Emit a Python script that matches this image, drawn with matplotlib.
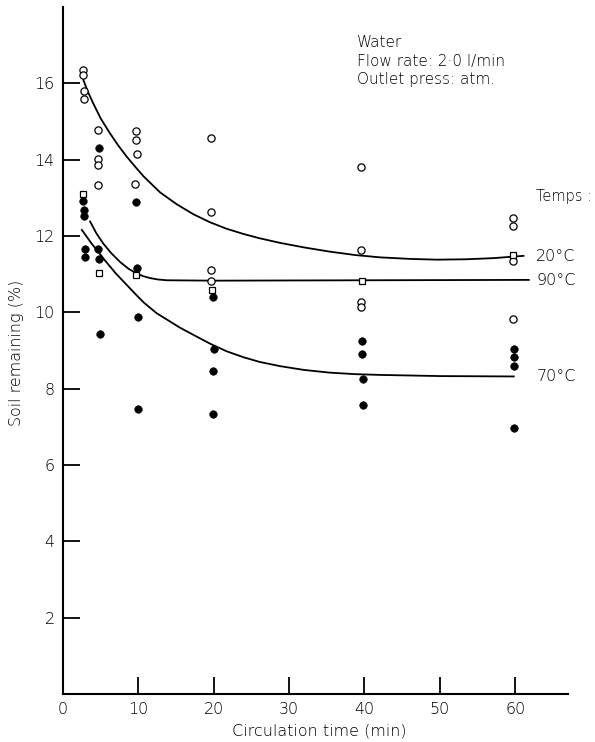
import matplotlib
matplotlib.use('Agg')
import matplotlib.pyplot as plt

plt.rcParams['font.family'] = ['DejaVu Sans']
plt.rcParams['font.weight'] = 'light'

# scatter points: soil remaining (%) against circulation time (min)
t_20 = [2.7, 2.7, 2.8, 2.8, 4.7, 4.6, 4.6, 4.6, 9.65, 9.65, 9.8, 9.6,
        19.7, 19.7, 19.7, 19.7, 39.6, 39.6, 39.6, 39.6, 59.7, 59.7, 59.7, 59.7]
soil_20 = [16.36, 16.22, 15.79, 15.58, 14.78, 14.02, 13.87, 13.33, 14.76, 14.52, 14.16, 13.36,
           14.56, 12.62, 11.10, 10.83, 13.82, 11.64, 10.28, 10.14, 12.47, 12.25, 11.35, 9.83]

t_70 = [2.7, 2.8, 2.8, 2.9, 2.95, 4.8, 4.7, 4.8, 4.95, 9.65, 9.8, 9.9, 10.0,
        19.9, 20.0, 19.9, 19.9, 39.7, 39.7, 39.8, 39.8, 59.8, 59.8, 59.8, 59.9]
soil_70 = [12.92, 12.69, 12.53, 11.66, 11.46, 14.30, 11.67, 11.39, 9.43, 12.90, 11.17, 9.89, 7.47,
           10.41, 9.04, 8.47, 7.33, 9.24, 8.90, 8.26, 7.56, 9.03, 8.84, 8.60, 6.96]

t_90 = [2.7, 4.8, 9.65, 19.8, 39.7, 59.7]
soil_90 = [13.10, 11.02, 10.97, 10.59, 10.83, 11.50]

# hand-fitted trend curves
curve_20_t = [2.7, 3.3, 4.0, 5.0, 6.2, 7.3, 8.45, 9.6, 10.7, 12.9, 15.1, 17.3, 19.5, 21.7,
              24.0, 26.1, 28.8, 32.0, 35.4, 38.8, 42.1, 46.0, 49.6, 53.5, 57.1, 61.1]
curve_20_y = [16.09, 15.78, 15.48, 15.08, 14.70, 14.38, 14.08, 13.81, 13.56, 13.14, 12.83, 12.57,
              12.36, 12.19, 12.05, 11.94, 11.82, 11.70, 11.59, 11.50, 11.44, 11.40, 11.38,
              11.39, 11.42, 11.48]

curve_90_t = [3.6, 4.4, 5.35, 6.4, 7.57, 8.7, 9.78, 10.6, 11.5, 12.6, 13.8, 20.0, 40.0, 61.8]
curve_90_y = [12.38, 12.08, 11.80, 11.55, 11.32, 11.14, 11.02, 10.95, 10.90, 10.86, 10.84,
              10.83, 10.84, 10.85]

curve_70_t = [2.5, 3.8, 4.7, 5.57, 7.0, 8.45, 9.6, 10.7, 12.4, 14.2, 15.5, 17.3, 19.5, 21.7,
              24.0, 26.1, 28.8, 32.0, 35.4, 38.8, 42.1, 50.0, 59.8]
curve_70_y = [12.16, 11.80, 11.58, 11.36, 11.02, 10.72, 10.48, 10.26, 9.98, 9.76, 9.60, 9.41,
              9.18, 8.98, 8.82, 8.70, 8.59, 8.49, 8.42, 8.38, 8.36, 8.33, 8.32]

xticks = [0, 10, 20, 30, 40, 50, 60]
yticks = [2, 4, 6, 8, 10, 12, 14, 16]

fig = plt.figure(figsize=(5.95, 7.42), dpi=100)
ax = fig.add_axes([63 / 595, 48 / 742, 505 / 595, 687 / 742])
ink = 'black'

for t, y in [(curve_20_t, curve_20_y), (curve_90_t, curve_90_y), (curve_70_t, curve_70_y)]:
    ax.plot(t, y, color=ink, lw=1.3, zorder=2)

ax.plot(t_20, soil_20, 'o', ms=5.2, mfc='white', mec=ink, mew=0.9, zorder=3)
ax.plot(t_90, soil_90, 's', ms=4.6, mfc='white', mec=ink, mew=0.9, zorder=3)
ax.plot(t_70, soil_70, 'o', ms=5.4, mfc=ink, mec=ink, mew=0.5, zorder=4)

ax.set_xlim(0, 67)
ax.set_ylim(0, 18)
ax.set_xticks(xticks)
ax.set_yticks(yticks)
ax.spines[['top', 'right']].set_visible(False)
for s in ['left', 'bottom']:
    ax.spines[s].set_linewidth(1.5)
    ax.spines[s].set_color(ink)
ax.tick_params(direction='in', length=12, width=1.3, color=ink, labelcolor=ink,
               labelsize=11.5, pad=6)

fig.text(17 / 595, 1 - 353 / 742, 'Soil remaining (%)', rotation=90, ha='center',
         va='center', fontsize=11.5, color=ink)
fig.text(319 / 595, 1 - 731 / 742, 'Circulation time (min)', ha='center', va='center',
         fontsize=11.5, color=ink)

ax.text(39.0, 17.06, 'Water', fontsize=11, color=ink, va='center')
ax.text(39.0, 16.57, 'Flow rate: 2·0 l/min', fontsize=11, color=ink, va='center')
ax.text(39.0, 16.09, 'Outlet press: atm.', fontsize=11, color=ink, va='center')

ax.text(62.7, 13.03, 'Temps :', fontsize=10.5, color=ink, va='center')
ax.text(62.8, 11.45, '20°C', fontsize=11.5, color=ink, va='center')
ax.text(62.8, 10.83, '90°C', fontsize=11.5, color=ink, va='center')
ax.text(62.8, 8.31, '70°C', fontsize=11.5, color=ink, va='center')

fig.savefig('out.png', dpi=100, facecolor='white')
